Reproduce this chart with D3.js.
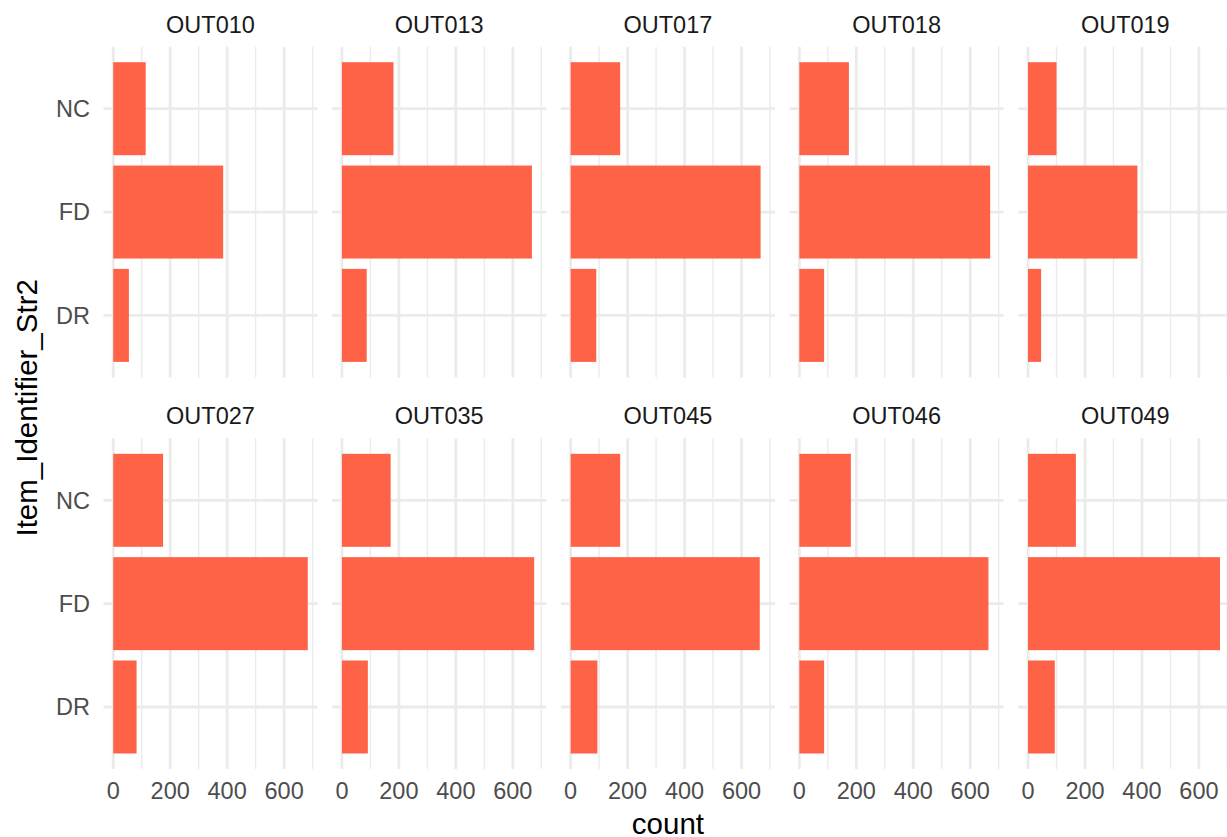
<!DOCTYPE html>
<html>
<head>
<meta charset="utf-8">
<style>
body { margin: 0; overflow: hidden; background: #fff; }
svg { display: block; font-family: "Liberation Sans", Arial, sans-serif; }
.grid-major { stroke: #ebebeb; stroke-width: 2.8px; }
.grid-minor { stroke: #ebebeb; stroke-width: 1.4px; }
.tick-label { fill: #4d4d4d; font-size: 23.5px; }
.strip-label { fill: #1a1a1a; font-size: 23.5px; }
.axis-title { fill: #000; font-size: 29.5px; }
</style>
</head>
<body>
<svg width="1227" height="837"></svg>
<script src="https://d3js.org/d3.v7.min.js"></script>
<script>
// counts per outlet
var outlets = ["OUT010", "OUT013", "OUT017", "OUT018", "OUT019",
               "OUT027", "OUT035", "OUT045", "OUT046", "OUT049"];
var categories = ["NC", "FD", "DR"];   // top to bottom
var ncCounts = [114, 181, 174, 174, 100, 175, 171, 174, 181, 168];
var fdCounts = [386, 667, 667, 670, 384, 683, 675, 664, 664, 674];
var drCounts = [55, 87, 90, 87, 46, 82, 91, 94, 87, 94];
var majorTicks = [0, 200, 400, 600];
var minorTicks = [100, 300, 500, 700];

var svg = d3.select("svg");

// facet layout (the right-most column runs past the edge, like the original)
var panelW = 214, panelH = 330.7;
var colStep = 228.7;
var colLeft = 103.5;
var rowTops = [46.7, 438.3];

var maxCount = d3.max(fdCounts.concat(ncCounts, drCounts));
var x = d3.scaleLinear()
  .domain([-0.05 * maxCount, 1.05 * maxCount])
  .range([0, panelW]);
var y = d3.scalePoint()
  .domain(categories)
  .range([0, panelH])
  .padding(0.6);
var barH = y.step() * 0.9;

var panels = outlets.map(function(o, i) {
  return {
    outlet: o,
    col: i % 5,
    row: Math.floor(i / 5),
    values: [
      {cat: "NC", n: ncCounts[i]},
      {cat: "FD", n: fdCounts[i]},
      {cat: "DR", n: drCounts[i]}
    ]
  };
});

var g = svg.selectAll("g.panel")
  .data(panels)
  .enter().append("g")
    .attr("class", "panel")
    .attr("transform", function(d) {
      return "translate(" + (colLeft + d.col * colStep) + "," + rowTops[d.row] + ")";
    });

// grid
g.selectAll("line.minor")
  .data(minorTicks.filter(function(t) { return t <= x.domain()[1]; }))
  .enter().append("line")
    .attr("class", "grid-minor")
    .attr("x1", function(t) { return x(t); })
    .attr("x2", function(t) { return x(t); })
    .attr("y1", 0).attr("y2", panelH);

g.selectAll("line.majorx")
  .data(majorTicks)
  .enter().append("line")
    .attr("class", "grid-major")
    .attr("x1", function(t) { return x(t); })
    .attr("x2", function(t) { return x(t); })
    .attr("y1", 0).attr("y2", panelH);

g.selectAll("line.majory")
  .data(categories)
  .enter().append("line")
    .attr("class", "grid-major")
    .attr("x1", 0).attr("x2", panelW)
    .attr("y1", function(c) { return y(c); })
    .attr("y2", function(c) { return y(c); });

// bars
g.selectAll("rect")
  .data(function(d) { return d.values; })
  .enter().append("rect")
    .attr("x", x(0))
    .attr("y", function(v) { return y(v.cat) - barH / 2; })
    .attr("width", function(v) { return x(v.n) - x(0); })
    .attr("height", barH)
    .attr("fill", "#ff6347");

// strip labels
g.append("text")
  .attr("class", "strip-label")
  .attr("x", panelW / 2)
  .attr("y", -14)
  .attr("text-anchor", "middle")
  .text(function(d) { return d.outlet; });

// y tick labels on first column
g.filter(function(d) { return d.col === 0; })
  .selectAll("text.ylab")
  .data(categories)
  .enter().append("text")
    .attr("class", "tick-label")
    .attr("x", -13.5)
    .attr("y", function(c) { return y(c); })
    .attr("dy", "0.36em")
    .attr("text-anchor", "end")
    .text(function(c) { return c; });

// x tick labels on bottom row
g.filter(function(d) { return d.row === 1; })
  .selectAll("text.xlab")
  .data(majorTicks)
  .enter().append("text")
    .attr("class", "tick-label")
    .attr("x", function(t) { return x(t); })
    .attr("y", panelH + 30.5)
    .attr("text-anchor", "middle")
    .text(function(t) { return t; });

// axis titles
var plotRight = colLeft + 4 * colStep + panelW;
svg.append("text")
  .attr("class", "axis-title")
  .attr("x", (colLeft + plotRight) / 2)
  .attr("y", 834)
  .attr("text-anchor", "middle")
  .text("count");

var midY = (rowTops[0] + rowTops[1] + panelH) / 2;
svg.append("text")
  .attr("class", "axis-title")
  .attr("transform", "translate(37," + midY + ") rotate(-90)")
  .attr("text-anchor", "middle")
  .text("Item_Identifier_Str2");
</script>
</body>
</html>
